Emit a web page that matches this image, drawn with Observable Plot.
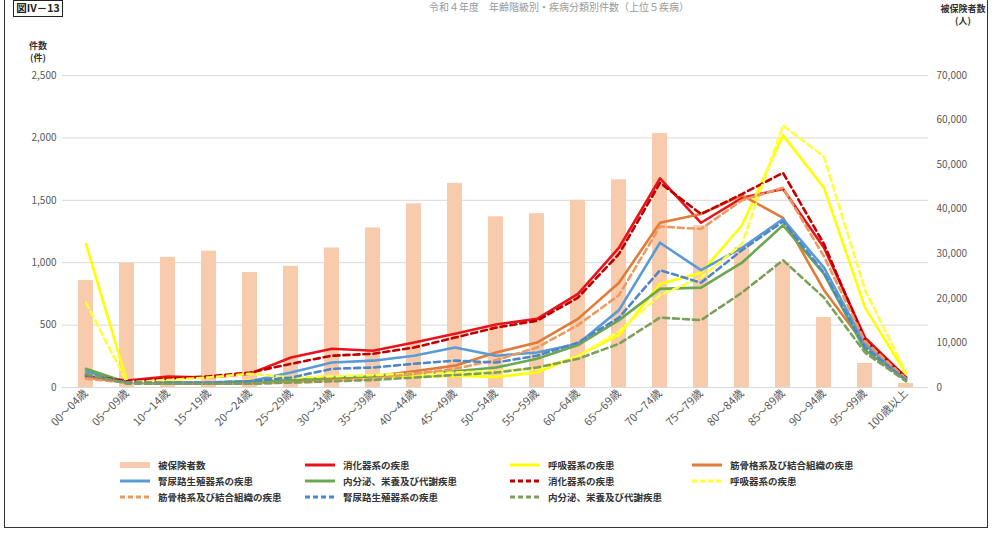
<!DOCTYPE html>
<html><head><meta charset="utf-8">
<script src="https://cdn.jsdelivr.net/npm/d3@7"></script>
<script src="https://cdn.jsdelivr.net/npm/@observablehq/plot@0.6"></script>
<style>
body{margin:0;background:#fff;font-family:"Noto Sans CJK JP","Noto Sans",sans-serif;}
#wrap{position:relative;width:998px;height:536px;overflow:hidden;}
#frame{position:absolute;left:4px;top:-3px;width:984px;height:531px;border:1.5px solid #333;box-sizing:border-box;}
#fig{position:absolute;left:13px;top:0px;width:48px;height:15px;border:1.5px solid #222;font-size:10.5px;font-weight:bold;text-align:center;line-height:14px;color:#222;}
#title{position:absolute;left:0;width:998px;top:1px;text-align:center;font-size:10px;line-height:12px;color:#999;padding-left:120px;box-sizing:border-box;}
.lab{position:absolute;font-size:9px;font-weight:bold;color:#333;text-align:center;line-height:12px;}
#chart{position:absolute;left:0;top:0;}
#legend{position:absolute;left:0;top:458px;width:998px;}
.li{position:absolute;font-size:9.5px;font-weight:bold;color:#333;white-space:nowrap;display:flex;align-items:center;}
.li svg{margin-right:6px;}
</style></head>
<body><div id="wrap">
<div id="frame"></div>
<div id="fig">図IV－13</div>
<div id="title">令和４年度　年齢階級別・疾病分類別件数（上位５疾病）</div>
<div class="lab" style="left:22px;top:40px;width:32px;">件数<br>(件)</div>
<div class="lab" style="left:935px;top:3px;width:56px;">被保険者数<br>(人)</div>
<div id="chart"></div>
<div id="legend"></div>
</div>
<script>
const ages = ["00～04歳","05～09歳","10～14歳","15～19歳","20～24歳","25～29歳","30～34歳","35～39歳","40～44歳","45～49歳","50～54歳","55～59歳","60～64歳","65～69歳","70～74歳","75～79歳","80～84歳","85～89歳","90～94歳","95～99歳","100歳以上"];
const insured = [24000,27900,29200,30600,25800,27200,31300,35800,41200,45800,38300,39000,42000,46600,57000,36300,31400,28000,15700,5400,900];
const digestive = [90,55,88,80,110,240,310,295,360,430,505,550,750,1120,1675,1320,1520,1590,1120,400,80];
const respiratory = [1150,50,40,40,55,60,70,80,85,95,85,120,255,420,830,920,1300,2020,1600,640,110];
const musculo = [80,40,30,30,35,50,70,90,130,175,280,360,550,840,1320,1390,1540,1360,780,340,70];
const genito = [130,40,40,40,50,120,200,215,255,320,255,280,350,620,1160,940,1120,1350,960,350,70];
const endocrine = [150,40,30,30,40,60,80,90,110,130,160,230,340,540,790,800,1000,1300,910,300,60];
const digestive2 = [100,50,70,90,120,190,255,270,320,400,480,535,720,1070,1640,1390,1550,1720,1150,380,80];
const respiratory2 = [680,40,60,80,110,80,90,100,110,120,130,150,250,450,740,880,1150,2100,1850,780,120];
const musculo2 = [70,40,30,30,30,40,50,70,110,150,220,320,500,740,1290,1270,1500,1600,1050,370,70];
const genito2 = [100,40,40,40,50,80,150,160,190,215,200,255,360,560,940,840,1100,1330,920,320,60];
const endocrine2 = [110,30,30,30,30,40,50,60,80,100,120,160,230,350,560,540,760,1020,720,280,50];
const leftTicks = [0,500,1000,1500,2000,2500];
const rightTicks = [0,10000,20000,30000,40000,50000,60000,70000];
const barName = "被保険者数";

const series = [
  {name:"消化器系の疾患", v:digestive, color:"#E8141C", dash:null},
  {name:"呼吸器系の疾患", v:respiratory, color:"#FFFF00", dash:null},
  {name:"筋骨格系及び結合組織の疾患", v:musculo, color:"#E07B39", dash:null},
  {name:"腎尿路生殖器系の疾患", v:genito, color:"#5B9BD5", dash:null},
  {name:"内分泌、栄養及び代謝疾患", v:endocrine, color:"#6AA84F", dash:null},
  {name:"消化器系の疾患", v:digestive2, color:"#C00000", dash:"6,4"},
  {name:"呼吸器系の疾患", v:respiratory2, color:"#FFFF40", dash:"6,4"},
  {name:"筋骨格系及び結合組織の疾患", v:musculo2, color:"#EC9A62", dash:"6,4"},
  {name:"腎尿路生殖器系の疾患", v:genito2, color:"#4F86C6", dash:"6,4"},
  {name:"内分泌、栄養及び代謝疾患", v:endocrine2, color:"#7BA05B", dash:"6,4"}
];
const ratio = 28; // right axis / left axis
const bars = ages.map((a,i)=>({age:a, people:insured[i]}));
const fmt = d3.format(",");

const lineMarks = series.map(s => Plot.lineY(ages.map((a,i)=>({age:a, value:s.v[i]})), {
  x:"age", y:"value", stroke:s.color, strokeWidth:2.6, strokeDasharray:s.dash || undefined, curve:"linear"
}));

const chart = Plot.plot({
  width:998, height:440,
  marginLeft:62, marginRight:70, marginTop:75, marginBottom:53,
  style:{fontFamily:"'Noto Sans CJK JP', sans-serif", fontSize:"10px", color:"#595959", background:"transparent"},
  x:{domain:ages, paddingInner:0.64, paddingOuter:0.32},
  y:{domain:[0,2500]},
  marks:[
    Plot.gridY(leftTicks, {stroke:"#d9d9d9", strokeOpacity:1, strokeWidth:1}),
    Plot.barY(bars, {x:"age", y:d=>d.people/ratio, fill:"#F8CBAD"}),
    ...lineMarks,
    Plot.axisY(leftTicks, {anchor:"left", tickSize:0, tickPadding:6, label:null, tickFormat:d=>fmt(d), fontSize:10}),
    Plot.axisY(rightTicks.map(v=>v/ratio), {anchor:"right", tickSize:0, tickPadding:8, label:null, tickFormat:d=>fmt(Math.round(d*ratio)), fontSize:10}),
    Plot.axisX({tickRotate:-45, tickSize:0, tickPadding:4, label:null, fontSize:11})
  ]
});
document.getElementById("chart").appendChild(chart);

// legend
const legendItems = [{name:barName, type:"bar", color:"#F8CBAD"}, ...series.map(s=>({name:s.name, type:"line", color:s.color, dash:s.dash}))];
const cols = [118, 303, 508, 690];
const rows = [0, 16, 32];
const leg = document.getElementById("legend");
legendItems.forEach((it, k) => {
  const r = Math.floor(k/4), c = k%4;
  const div = document.createElement("div");
  div.className = "li";
  div.style.left = cols[c]+"px";
  div.style.top = rows[r]+"px";
  let sw;
  if (it.type==="bar") sw = `<svg width="34" height="10"><rect x="2" y="2" width="30" height="6" fill="${it.color}"/></svg>`;
  else sw = `<svg width="34" height="10"><line x1="2" x2="32" y1="5" y2="5" stroke="${it.color}" stroke-width="3" ${it.dash?`stroke-dasharray="5,3"`:""}/></svg>`;
  div.innerHTML = sw + `<span>${it.name}</span>`;
  leg.appendChild(div);
});
</script>
</body></html>
